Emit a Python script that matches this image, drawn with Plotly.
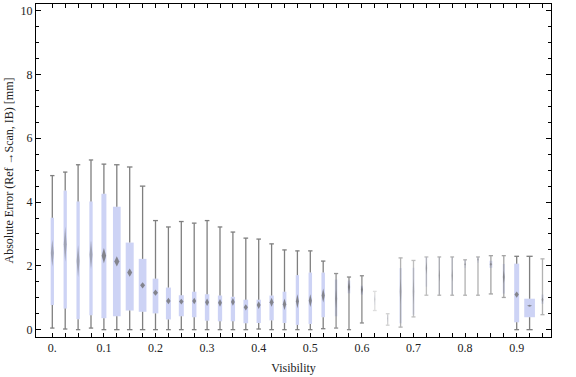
import plotly.graph_objects as go

# ---- data ----
visibility = [round(0.025 * k, 3) for k in range(39)]
lower = [0.05, 0.02, 0.00, 0.05, 0.00, 0.00, 0.00, 0.00, 0.00, 0.00,
         0.00, 0.00, 0.00, 0.00, 0.00, 0.00, 0.02, 0.00, 0.00, 0.00,
         0.00, 0.03, 0.05, 0.00, 0.21, 0.60, 0.14, 0.08, 0.40, 1.08,
         1.08, 1.08, 1.08, 1.08, 1.12, 1.01, 0.00, 0.00, 0.47]
q1 = [0.77, 0.66, 0.33, 0.45, 0.36, 0.42, 0.60, 0.56, 0.51, 0.32,
      0.42, 0.39, 0.28, 0.26, 0.26, 0.20, 0.21, 0.29, 0.21, 0.15,
      0.18, 0.39, 0.42, 1.14, 1.10, 0.78, 0.25, 0.20, 0.47, 1.35,
      1.10, 1.10, 1.93, 2.10, 1.94, 1.13, 0.23, 0.39, 0.81]
median = [2.40, 2.68, 2.15, 2.35, 2.32, 2.14, 1.79, 1.39, 1.16, 0.90,
          0.88, 0.90, 0.86, 0.84, 0.87, 0.70, 0.77, 0.86, 0.80, 0.89,
          0.91, 1.07, 0.97, 1.34, 1.25, 0.95, 0.35, 1.20, 1.20, 1.93,
          1.70, 1.70, 2.05, 2.20, 2.05, 1.65, 1.10, 0.75, 0.94]
q3 = [3.51, 4.36, 4.02, 4.02, 4.26, 3.85, 2.73, 2.22, 1.60, 1.32,
      1.08, 1.19, 1.11, 1.07, 1.03, 0.94, 0.94, 1.07, 1.19, 1.71,
      1.79, 1.79, 1.57, 1.54, 1.38, 1.08, 0.45, 1.93, 1.94, 2.28,
      2.28, 2.28, 2.19, 2.28, 2.16, 2.06, 2.07, 0.97, 1.10]
upper = [4.83, 4.94, 5.17, 5.32, 5.19, 5.17, 5.10, 4.50, 3.42, 3.22,
         3.39, 3.34, 3.42, 3.22, 3.06, 2.87, 2.84, 2.69, 2.50, 2.47,
         2.47, 2.15, 1.76, 1.65, 1.69, 1.20, 0.50, 2.25, 2.17, 2.28,
         2.28, 2.28, 2.19, 2.28, 2.32, 2.32, 2.30, 2.30, 2.22]
# relative sample weight (drives box width) and median confidence half-range
weight = [3.3, 3.3, 3.3, 3.3, 5.0, 7.7, 8.0, 7.7, 5.7, 5.0,
          5.0, 4.5, 4.5, 4.3, 4.3, 4.7, 4.3, 4.3, 3.8, 3.3,
          3.5, 3.5, 2.5, 2.5, 2.2, 1.0, 0.8, 2.4, 2.0, 1.6,
          1.0, 1.0, 1.2, 1.2, 3.0, 2.2, 5.0, 10.7, 2.2]
visible_share = [1, 1, 1, 1, 1, 1, 1, 1, 1, 1,
                 1, 1, 1, 1, 1, 1, 1, 1, 1, 1,
                 1, 1, 0.85, 0.9, 0.9, 0.25, 0.35, 0.6, 0.5, 0.5,
                 0.6, 0.6, 0.6, 0.6, 0.7, 0.7, 1, 1, 0.6]
notch = [0.42, 0.55, 0.50, 0.45, 0.24, 0.16, 0.13, 0.10, 0.10, 0.10,
         0.09, 0.10, 0.12, 0.12, 0.12, 0.10, 0.12, 0.14, 0.18, 0.22,
         0.20, 0.22, 0.30, 0.15, 0.12, 0.10, 0.05, 0.40, 0.40, 0.20,
         0.20, 0.20, 0.05, 0.05, 0.05, 0.20, 0.10, 0.03, 0.08]
tick_text = {0.0: "0.", 0.1: "0.1", 0.2: "0.2", 0.3: "0.3", 0.4: "0.4",
             0.5: "0.5", 0.6: "0.6", 0.7: "0.7", 0.8: "0.8", 0.9: "0.9"}

# ---- layout geometry ----
W, H = 576, 377
ML, MR, MT, MB = 36, 25, 4, 40
XR = [-0.0316, 0.9665]
YR = [-0.23, 10.21]
ppu = (W - ML - MR) / (XR[1] - XR[0])  # pixels per x unit

fig = go.Figure()

FONT = "Liberation Serif, Times New Roman, serif"

# boxes (bars sit beneath scatter layers, so whiskers are split around them)
fig.add_trace(go.Bar(
    x=visibility, base=q1, y=[b - a for a, b in zip(q1, q3)],
    width=[w / ppu for w in weight],
    marker=dict(color=[f"rgba(205,211,245,{op})" for op in visible_share],
                line=dict(width=0)),
    hoverinfo="skip", showlegend=False))

# whiskers with caps
for x, lo, a, b, hi, w, op in zip(visibility, lower, q1, q3, upper,
                                   weight, visible_share):
    cap = (3.5 + 0.25 * w) / 2 / ppu
    if op >= 0.95:
        xs = [x - cap, x + cap, None, x, x, None, x, x, None, x - cap, x + cap]
        ys = [hi, hi, None, b, hi, None, lo, a, None, lo, lo]
    else:
        xs = [x - cap, x + cap, None, x, x, None, x - cap, x + cap]
        ys = [hi, hi, None, lo, hi, None, lo, lo]
    fig.add_trace(go.Scatter(
        x=xs, y=ys, mode="lines", line=dict(color="#7f7f7f", width=1.3),
        opacity=op, hoverinfo="skip", showlegend=False))

# median markers (diamonds)
for x, m, n, w, op in zip(visibility, median, notch, weight, visible_share):
    hw = min(2.5, 0.45 * w) / ppu
    alpha = 0.75 if n < 0.3 else 0.45
    fig.add_trace(go.Scatter(
        x=[x - hw, x, x + hw, x, x - hw], y=[m, m + n, m, m - n, m],
        mode="lines", fill="toself", fillcolor=f"rgba(105,105,105,{alpha})",
        line=dict(width=0, color="rgba(110,110,110,0)"),
        opacity=op, hoverinfo="skip", showlegend=False))

fig.update_layout(
    width=W, height=H,
    margin=dict(l=ML, r=MR, t=MT, b=MB, pad=0, autoexpand=False),
    paper_bgcolor="white", plot_bgcolor="white",
    barmode="overlay", showlegend=False,
    font=dict(family=FONT, size=12, color="#222"),
    xaxis=dict(range=XR, showgrid=False, zeroline=False, automargin=False,
               showline=True, linecolor="black", linewidth=1, mirror="ticks",
               tickmode="array", tickvals=visibility,
               ticktext=[tick_text.get(v, "") for v in visibility],
               ticks="inside", ticklen=4, tickcolor="black", tickwidth=1,
               tickfont=dict(family=FONT, size=12, color="#222"),
               title=dict(text="Visibility", standoff=9,
                          font=dict(family=FONT, size=12, color="#222"))),
    yaxis=dict(range=YR, showgrid=False, zeroline=False, automargin=False,
               showline=True, linecolor="black", linewidth=1, mirror="ticks",
               tickmode="linear", tick0=0, dtick=2,
               ticks="inside", ticklen=5, tickcolor="black", tickwidth=1,
               minor=dict(dtick=0.5, tick0=0, ticks="inside", ticklen=3,
                          tickcolor="black", tickwidth=1),
               tickfont=dict(family=FONT, size=12, color="#222"),
               title=dict(text="Absolute Error (Ref \u2192Scan, IB) [mm]",
                          standoff=4,
                          font=dict(family=FONT, size=12, color="#222"))),
)

fig.write_html("out.html", config={"displayModeBar": False},
               post_script="document.body.style.margin='0';"
                           "document.body.style.padding='0';")
